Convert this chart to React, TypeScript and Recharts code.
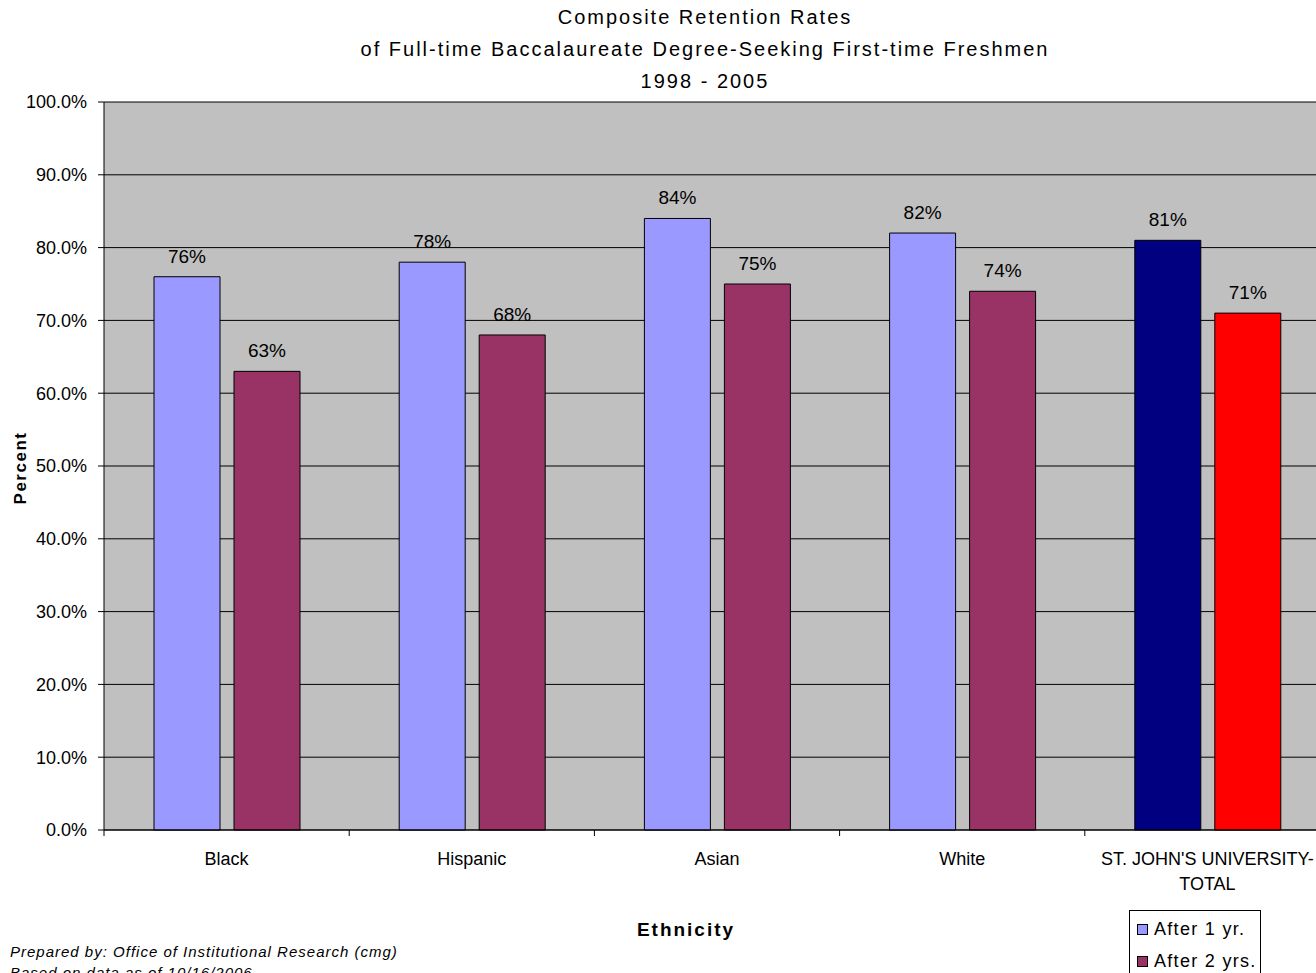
import { BarChart, Bar, XAxis, YAxis, CartesianGrid, Legend, LabelList, Cell } from "recharts";

const categories = ["Black", "Hispanic", "Asian", "White", "ST. JOHN'S UNIVERSITY-TOTAL"];
const afterOneYear = [76, 78, 84, 82, 81];
const afterTwoYears = [63, 68, 75, 74, 71];
const yTicks = [0, 10, 20, 30, 40, 50, 60, 70, 80, 90, 100];

const data = categories.map((name, i) => ({ name, one: afterOneYear[i], two: afterTwoYears[i] }));

const FONT = "'Liberation Sans', Arial, sans-serif";
const ONE_COLOR = "#9999FF";
const TWO_COLOR = "#993366";
const TOTAL_ONE = "#000080";
const TOTAL_TWO = "#FF0000";

// category label, wrapped after a hyphen, plus the tick mark at the left band edge
function CategoryTick(props: any) {
  const { x, y, payload } = props;
  const label: string = payload.value;
  const idx = label.indexOf("-");
  const lines = idx >= 0 ? [label.slice(0, idx + 1), label.slice(idx + 1)] : [label];
  const edge = x - (payload.offset ?? 0);
  return (
    <g>
      <line x1={edge} y1={y - 8} x2={edge} y2={y - 2} stroke="#000" />
      {lines.map((l, i) => (
        <text key={i} x={x} y={y + 27 + i * 25} textAnchor="middle" fontSize={18} fill="#000" fontFamily={FONT}>
          {l}
        </text>
      ))}
    </g>
  );
}

function LegendBox() {
  const items = [
    { label: "After 1 yr.", color: ONE_COLOR },
    { label: "After 2 yrs.", color: TWO_COLOR },
  ];
  return (
    <div style={{ border: "1px solid #000", width: 132, height: 80, boxSizing: "border-box", background: "#fff", padding: "2px 0 0 7px", fontFamily: FONT }}>
      {items.map((it) => (
        <div key={it.label} style={{ display: "flex", alignItems: "center", height: 32, fontSize: 18, letterSpacing: 1.3 }}>
          <span style={{ width: 9, height: 9, border: "1px solid #000", background: it.color, marginRight: 6, display: "inline-block" }} />
          {it.label}
        </div>
      ))}
    </div>
  );
}

export default function App() {
  return (
    <div style={{ position: "fixed", left: 0, top: 0, width: 1316, height: 973, overflow: "hidden", background: "#fff", fontFamily: FONT }}>
      <div style={{ position: "absolute", left: 405, width: 600, top: 1, textAlign: "center", fontSize: 20, letterSpacing: 2, lineHeight: "32px", color: "#000" }}>
        <div>Composite Retention Rates</div>
        <div style={{ whiteSpace: "nowrap", marginLeft: -100, marginRight: -100 }}>of Full-time Baccalaureate Degree-Seeking First-time Freshmen</div>
        <div>1998 - 2005</div>
      </div>
      <BarChart
        width={1340}
        height={973}
        data={data}
        margin={{ top: 102, right: 10, bottom: 0, left: 0 }}
        barSize={66}
        barGap={14}
      >
        <CartesianGrid vertical={false} stroke="#000" fill="#C0C0C0" fillOpacity={1} />
        <XAxis
          dataKey="name"
          height={143}
          stroke="#000"
          tickLine={false}
          interval={0}
          tick={<CategoryTick />}
          label={{
            content: () => (
              <text x={686} y={936} textAnchor="middle" fontSize={19} fontWeight="bold" letterSpacing={2} fontFamily={FONT} fill="#000">
                Ethnicity
              </text>
            ),
          }}
        />
        <YAxis
          width={104}
          domain={[0, 100]}
          ticks={yTicks}
          interval={0}
          stroke="#000"
          tickSize={6}
          tickMargin={11}
          tick={{ fontSize: 18, fill: "#000", fontFamily: FONT }}
          tickFormatter={(v: number) => `${v.toFixed(1)}%`}
          label={{
            content: () => (
              <text
                x={26}
                y={468}
                textAnchor="middle"
                fontSize={17}
                fontWeight="bold"
                letterSpacing={1.5}
                fontFamily={FONT}
                fill="#000"
                transform="rotate(-90 26 468)"
              >
                Percent
              </text>
            ),
          }}
        />
        <Legend
          layout="vertical"
          align="center"
          verticalAlign="middle"
          wrapperStyle={{ position: "absolute", left: 1129, top: 910, width: 132 }}
          content={<LegendBox />}
        />
        <Bar dataKey="one" name="After 1 yr." fill={ONE_COLOR} stroke="#000" strokeWidth={1} isAnimationActive={false}>
          {data.map((_, i) => (
            <Cell key={i} fill={i === data.length - 1 ? TOTAL_ONE : ONE_COLOR} />
          ))}
          <LabelList dataKey="one" position="top" offset={14} formatter={(v: any) => `${v}%`} style={{ fontSize: 19, fill: "#000", fontFamily: FONT }} />
        </Bar>
        <Bar dataKey="two" name="After 2 yrs." fill={TWO_COLOR} stroke="#000" strokeWidth={1} isAnimationActive={false}>
          {data.map((_, i) => (
            <Cell key={i} fill={i === data.length - 1 ? TOTAL_TWO : TWO_COLOR} />
          ))}
          <LabelList dataKey="two" position="top" offset={14} formatter={(v: any) => `${v}%`} style={{ fontSize: 19, fill: "#000", fontFamily: FONT }} />
        </Bar>
      </BarChart>
      <div style={{ position: "absolute", left: 10, top: 941, fontSize: 15, fontStyle: "italic", letterSpacing: 1, lineHeight: "21px", color: "#000" }}>
        <div>Prepared by: Office of Institutional Research (cmg)</div>
        <div>Based on data as of 10/16/2006</div>
      </div>
    </div>
  );
}
